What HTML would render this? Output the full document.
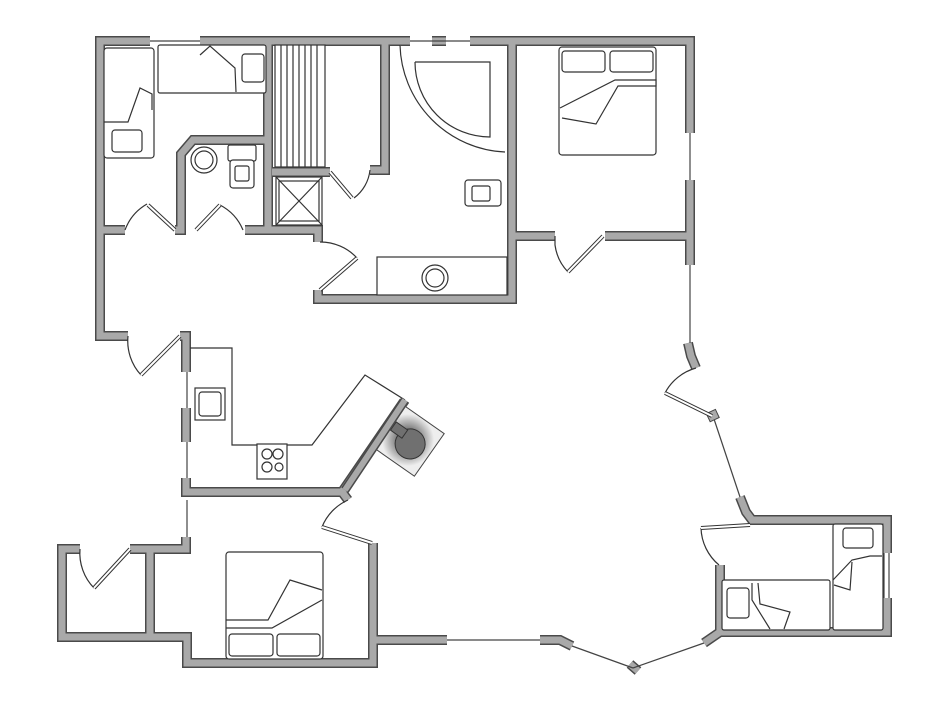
<!DOCTYPE html>
<html><head><meta charset="utf-8"><style>
html,body{margin:0;padding:0;background:#fff;}
svg{display:block;}
.wo{fill:none;stroke:#4a4a4a;stroke-width:10;stroke-linejoin:miter;stroke-linecap:butt;}
.wi{fill:none;stroke:#a9a9a9;stroke-width:7;stroke-linejoin:miter;stroke-linecap:butt;}
.t{fill:none;stroke:#333;stroke-width:1.2;}
.f{fill:#fff;stroke:#333;stroke-width:1.2;}
.win{stroke:#444;stroke-width:1.2;fill:none;}
</style></head><body>
<svg width="950" height="713" viewBox="0 0 950 713" xmlns="http://www.w3.org/2000/svg">
<defs>
<radialGradient id="g"><stop offset="0.4" stop-color="#777"/><stop offset="1" stop-color="#eee"/></radialGradient>
</defs>
<g id="walls">
<g class="wo">
<path d="M150,41 H100 V336 H128"/>
<path d="M200,41 H410"/><path d="M432,41 H446"/><path d="M470,41 H690 V133"/>
<path d="M690,180 V265"/><path d="M515,236 H555"/><path d="M605,236 H690"/>
<path d="M512,41 V299 H318 V290"/><path d="M318,242 V230 H245"/>
<path d="M268,41 V230"/><path d="M268,140 H193 L181,154 V230 H175"/><path d="M100,230 H125"/>
<path d="M272,172 H330"/><path d="M385,41 V170 H370"/>
<path d="M180,336 H186 V372"/><path d="M186,408 V442"/><path d="M186,478 V492 H342 L405,400"/><path d="M342,492 L348,500"/>
<path d="M186,537 V549 H130"/><path d="M80,549 H62 V637 H187 V663 H373 V543"/><path d="M150,549 V637"/>
<path d="M373,640 H447"/><path d="M540,640 L560,640 L572,646"/>
<path d="M688,343 L691,356 L696,368"/><path d="M740,497 L746,512 L752,520 L887,520 V553"/><path d="M887,598 V632 H720 V565"/><path d="M720,632 L704,643"/>
<path d="M630,664 L638,671"/>
</g>
<g class="wi">
<path d="M150,41 H100 V336 H128"/>
<path d="M200,41 H410"/><path d="M432,41 H446"/><path d="M470,41 H690 V133"/>
<path d="M690,180 V265"/><path d="M515,236 H555"/><path d="M605,236 H690"/>
<path d="M512,41 V299 H318 V290"/><path d="M318,242 V230 H245"/>
<path d="M268,41 V230"/><path d="M268,140 H193 L181,154 V230 H175"/><path d="M100,230 H125"/>
<path d="M272,172 H330"/><path d="M385,41 V170 H370"/>
<path d="M180,336 H186 V372"/><path d="M186,408 V442"/><path d="M186,478 V492 H342 L405,400"/><path d="M342,492 L348,500"/>
<path d="M186,537 V549 H130"/><path d="M80,549 H62 V637 H187 V663 H373 V543"/><path d="M150,549 V637"/>
<path d="M373,640 H447"/><path d="M540,640 L560,640 L572,646"/>
<path d="M688,343 L691,356 L696,368"/><path d="M740,497 L746,512 L752,520 L887,520 V553"/><path d="M887,598 V632 H720 V565"/><path d="M720,632 L704,643"/>
<path d="M630,664 L638,671"/>
</g>
</g>
<g class="win">
<line x1="150" y1="41" x2="200" y2="41"/><line x1="410" y1="41" x2="470" y2="41"/>
<line x1="690" y1="133" x2="690" y2="180"/><line x1="690" y1="265" x2="690" y2="343"/>
<line x1="187" y1="372" x2="187" y2="408"/><line x1="187" y1="442" x2="187" y2="478"/><line x1="187" y1="500" x2="187" y2="537"/>
<line x1="447" y1="640" x2="540" y2="640"/><line x1="572" y1="646" x2="633" y2="668"/><line x1="633" y1="668" x2="704" y2="643"/>
<line x1="713" y1="416" x2="740" y2="497"/><line x1="884" y1="553" x2="884" y2="598"/><line x1="889" y1="553" x2="889" y2="598"/>
</g>
<rect x="708" y="411" width="10" height="9" fill="#aaa" stroke="#444" transform="rotate(-25 713 416)"/>
<!-- door arcs -->
<g class="t">
<path d="M125,230 A50,50 0 0 1 147,204"/>
<path d="M243,230 A50,50 0 0 0 220,205"/>
<path d="M370,170 A40,40 0 0 1 354,198"/>
<path d="M555,236 V245 A48,48 0 0 0 568,272"/>
<path d="M128,336 A50,50 0 0 0 141,375"/>
<path d="M80,549 A50,50 0 0 0 94,588"/>
<path d="M348,500 A50,50 0 0 0 322,527"/>
<path d="M696,368 A50,50 0 0 0 665,393"/>
<path d="M701,528 A50,50 0 0 0 719,565"/>
<path d="M320,242 A50,50 0 0 1 357,258"/>
</g>
<!-- door leaves (double line) -->
<g stroke="#333" stroke-width="4" fill="none">
<path d="M148,205 L175,230"/><path d="M125,230 L148,205" stroke-width="0"/>
<path d="M196,230 L220,205"/>
<path d="M330,172 L352,198"/>
<path d="M357,258 L320,290"/>
<path d="M568,272 L603,236"/>
<path d="M141,375 L180,336"/>
<path d="M94,588 L130,549"/>
<path d="M322,527 L372,543"/>
<path d="M665,393 L712,416"/>
<path d="M750,525 L701,528"/>
</g>
<g stroke="#fff" stroke-width="2" fill="none">
<path d="M148,205 L175,230"/>
<path d="M196,230 L220,205"/>
<path d="M330,172 L352,198"/>
<path d="M357,258 L320,290"/>
<path d="M568,272 L603,236"/>
<path d="M141,375 L180,336"/>
<path d="M94,588 L130,549"/>
<path d="M322,527 L372,543"/>
<path d="M665,393 L712,416"/>
<path d="M750,525 L701,528"/>
</g>
<g class="f">
<rect x="104" y="48" width="50" height="110" rx="3"/><rect x="112" y="130" width="30" height="22" rx="3"/>
<path d="M104,122 L128,122 L140,88 L152,94 L152,110" />
<rect x="158" y="45" width="108" height="48" rx="2"/><rect x="242" y="54" width="22" height="28" rx="3"/>
<path d="M200,55 L210,46 L235,68 L236,92"/>
<circle cx="204" cy="160" r="13"/><circle cx="204" cy="160" r="9"/>
<rect x="228" y="145" width="28" height="16" rx="2"/><rect x="230" y="160" width="24" height="28" rx="3"/><rect x="235" y="166" width="14" height="15" rx="2"/>
<rect x="275" y="45" width="50" height="122"/>
<rect x="276" y="177" width="46" height="48"/>
<rect x="465" y="180" width="36" height="26" rx="3"/><rect x="472" y="186" width="18" height="15" rx="2"/>
<rect x="377" y="257" width="130" height="38"/><circle cx="435" cy="278" r="13"/><circle cx="435" cy="278" r="9"/>
<path d="M400,45 A110,110 0 0 0 505,152"/><path d="M415,62 H490 V137 A75,75 0 0 1 415,62"/>
<rect x="559" y="47" width="97" height="108" rx="3"/><rect x="562" y="51" width="43" height="21" rx="3"/><rect x="610" y="51" width="43" height="21" rx="3"/>
<path d="M560,108 L615,80 L656,80 L656,86 L618,86 L596,124 L562,118"/>
<path d="M190,348 H232 V445 H312 L365,375 L405,400"/>
<rect x="195" y="388" width="30" height="32"/><rect x="199" y="392" width="22" height="24" rx="3"/>
<rect x="257" y="444" width="30" height="35"/><circle cx="267" cy="454" r="5"/><circle cx="278" cy="454" r="5"/><circle cx="267" cy="467" r="5"/><circle cx="279" cy="467" r="4"/>
<rect x="226" y="552" width="97" height="107" rx="3"/><rect x="229" y="634" width="44" height="22" rx="3"/><rect x="277" y="634" width="43" height="22" rx="3"/>
<path d="M226,620 L268,620 L290,580 L322,590 M226,628 L272,628 L322,600"/>
<rect x="833" y="524" width="50" height="106" rx="2"/><rect x="843" y="528" width="30" height="20" rx="3"/>
<path d="M833,580 L852,560 L870,556 L882,556 M852,562 L850,590 L834,585"/>
<rect x="722" y="580" width="108" height="50" rx="2"/><rect x="727" y="588" width="22" height="30" rx="3"/>
<path d="M752,583 V600 L770,629 M758,583 L760,604 L790,612 L784,629"/>
</g>
<!-- stair treads and shower -->
<g stroke="#333" stroke-width="1.2">
<line x1="281" y1="45" x2="281" y2="167"/><line x1="287" y1="45" x2="287" y2="167"/><line x1="293" y1="45" x2="293" y2="167"/>
<line x1="299" y1="45" x2="299" y2="167"/><line x1="305" y1="45" x2="305" y2="167"/><line x1="311" y1="45" x2="311" y2="167"/>
<line x1="317" y1="45" x2="317" y2="167"/>
<line x1="276" y1="177" x2="322" y2="225"/><line x1="322" y1="177" x2="276" y2="225"/>
<rect x="279" y="181" width="40" height="40" fill="none"/>
</g>
<g transform="rotate(35 408 440)">
<rect x="382" y="414" width="52" height="52" fill="url(#g)" stroke="#444"/>
<circle cx="412" cy="442" r="15" fill="#707070" stroke="#333"/>
<rect x="388" y="432" width="14" height="10" fill="#707070" stroke="#333"/>
</g>
<line x1="345" y1="490" x2="405" y2="400" stroke="#4a4a4a" stroke-width="9"/>
<line x1="345" y1="490" x2="405" y2="400" stroke="#a9a9a9" stroke-width="6"/>
</svg>
</body></html>
